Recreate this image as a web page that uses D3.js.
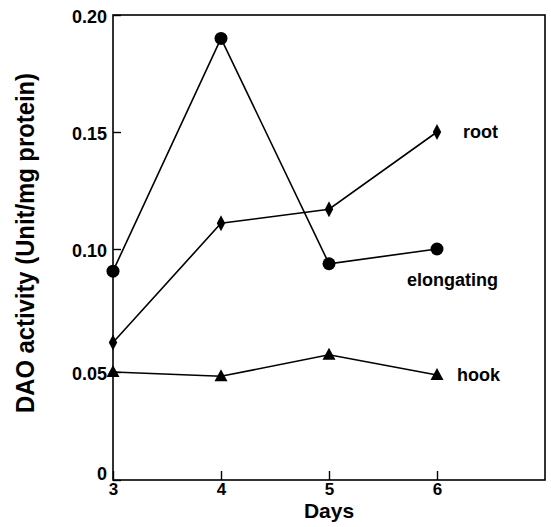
<!DOCTYPE html>
<html><head><meta charset="utf-8">
<script src="https://cdn.jsdelivr.net/npm/d3@7"></script>
<style>body{margin:0;background:#fff}svg{display:block}text{font-family:"Liberation Sans",Arial,sans-serif;font-weight:bold;fill:#000}</style>
</head><body>
<script>
const days = [3, 4, 5, 6];
const elongating = [0.091, 0.190, 0.094, 0.100];
const root = [0.062, 0.111, 0.117, 0.150];
const hook = [0.050, 0.048, 0.057, 0.0486];
const yTicks = [0, 0.05, 0.10, 0.15, 0.20];
const yTickLabels = ["0", "0.05", "0.10", "0.15", "0.20"];
const xTicks = [3, 4, 5, 6];
const seriesNames = ["elongating", "root", "hook"];

const W = 551, H = 527;
const svg = d3.select("body").append("svg").attr("width", W).attr("height", H);
const x = d3.scaleLinear().domain([3, 7]).range([113, 545]);
// piecewise to follow the printed tick spacing
const y = d3.scaleLinear().domain(yTicks).range([480, 372, 249, 132, 15]);

// frame
svg.append("rect").attr("x", x(3)).attr("y", y(0.2)).attr("width", x(7) - x(3)).attr("height", y(0) - y(0.2))
  .attr("fill", "none").attr("stroke", "#000").attr("stroke-width", 1.6);

// y axis
const yAxis = d3.axisLeft(y).tickValues(yTicks).tickFormat((d, i) => yTickLabels[i]).tickSizeInner(-8).tickSizeOuter(0).tickPadding(6);
const ga = svg.append("g").attr("transform", `translate(${x(3)},0)`).call(yAxis);
ga.select(".domain").remove();
ga.selectAll("line").attr("stroke-width", 1.4);
ga.selectAll("text").style("font-size", "18px").attr("font-family", null)
  .attr("dy", d => d === 0 ? "-0.05em" : "0.4em");

// x axis
const xAxis = d3.axisBottom(x).tickValues(xTicks).tickFormat(d3.format("d")).tickSizeInner(-9).tickSizeOuter(0).tickPadding(3);
const gx = svg.append("g").attr("transform", `translate(0,${y(0)})`).call(xAxis);
gx.select(".domain").remove();
gx.selectAll("line").attr("stroke-width", 1.4);
gx.selectAll("text").style("font-size", "17px").attr("font-family", null);

// titles
svg.append("text").attr("x", x(5)).attr("y", 518).attr("text-anchor", "middle").style("font-size", "21px").text("Days");
svg.append("text").attr("transform", `translate(34,243) rotate(-90)`).attr("text-anchor", "middle")
  .attr("textLength", 340).attr("lengthAdjust", "spacingAndGlyphs")
  .style("font-size", "25px").text("DAO activity (Unit/mg protein)");

const line = d3.line().x((d, i) => x(days[i])).y(d => y(d));
function drawLine(vals) {
  svg.append("path").datum(vals).attr("d", line).attr("fill", "none").attr("stroke", "#000").attr("stroke-width", 1.6);
}
drawLine(elongating); drawLine(root); drawLine(hook);

// markers
svg.selectAll(".c").data(elongating).enter().append("circle")
  .attr("cx", (d, i) => x(days[i])).attr("cy", d => y(d)).attr("r", 6.5).attr("fill", "#000");
svg.selectAll(".dm").data(root).enter().append("path")
  .attr("transform", (d, i) => `translate(${x(days[i])},${y(d)})`)
  .attr("d", "M0,-8 L4.2,0 L0,8 L-4.2,0 Z").attr("fill", "#000");
svg.selectAll(".tr").data(hook).enter().append("path")
  .attr("transform", (d, i) => `translate(${x(days[i])},${y(d)})`)
  .attr("d", "M0,-7 L6.5,5 L-6.5,5 Z").attr("fill", "#000");

// series labels
svg.append("text").attr("x", 463).attr("y", y(root[3]) + 6).style("font-size", "18px").text(seriesNames[1]);
svg.append("text").attr("x", 407).attr("y", 286).style("font-size", "18px").text(seriesNames[0]);
svg.append("text").attr("x", 457).attr("y", y(hook[3]) + 6).style("font-size", "18px").text(seriesNames[2]);
</script>
</body></html>
